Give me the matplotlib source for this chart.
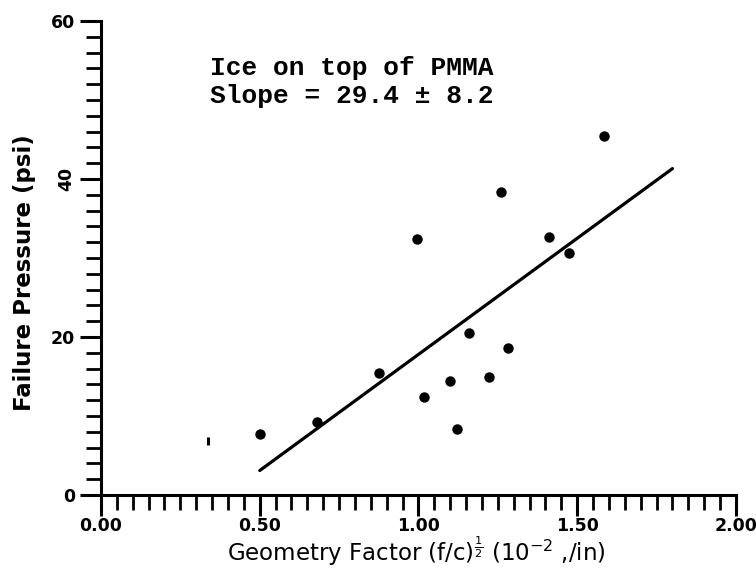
import matplotlib
matplotlib.use("Agg")
import matplotlib.pyplot as plt
from matplotlib.ticker import MultipleLocator, FixedLocator
import numpy as np

# Measured failure pressure vs. geometry factor
geometry_factor = [0.50, 0.68, 0.875, 0.996, 1.018, 1.099, 1.120, 1.160,
                   1.221, 1.259, 1.282, 1.412, 1.473, 1.584]
failure_pressure = [7.7, 9.3, 15.5, 32.4, 12.4, 14.4, 8.4, 20.5,
                    15.0, 38.4, 18.6, 32.6, 30.6, 45.5]
# faintly printed point
faint_x = [0.337]
faint_y = [6.8]

# Least-squares line
fit_slope = 29.4
fit_intercept = -11.6
fit_range = [0.50, 1.80]

x_ticks = [0.0, 0.5, 1.0, 1.5, 2.0]
x_tick_labels = ["0.00", "0.50", "1.00", "1.50", "2.00"]
y_ticks = [0, 20, 40, 60]
y_tick_labels = ["0", "20", "40", "60"]

fig = plt.figure(figsize=(7.56, 5.68), dpi=100)
ax = fig.add_axes([0.1336, 0.1285, 0.8399, 0.8345])

ax.plot(geometry_factor, failure_pressure, "o", color="black", ms=7.5,
        markeredgewidth=0, zorder=3)
ax.plot(faint_x, faint_y, marker="|", color="black", ms=6, mew=2.2,
        linestyle="none")

fx = np.array(fit_range)
ax.plot(fx, fit_slope * fx + fit_intercept, color="black", lw=2.3,
        solid_capstyle="round")

ax.set_xlim(0, 2.0)
ax.set_ylim(0, 60)
for s in ("top", "right"):
    ax.spines[s].set_visible(False)
for s in ("left", "bottom"):
    ax.spines[s].set_linewidth(2.2)

ax.xaxis.set_major_locator(FixedLocator(x_ticks))
ax.xaxis.set_minor_locator(MultipleLocator(0.05))
ax.yaxis.set_major_locator(FixedLocator(y_ticks))
ax.yaxis.set_minor_locator(MultipleLocator(2))
ax.set_xticklabels(x_tick_labels)
ax.set_yticklabels(y_tick_labels)

ax.tick_params(which="major", direction="out", length=15, width=2.2,
               labelsize=12.5)
ax.tick_params(axis="x", which="major", pad=1)
ax.tick_params(which="minor", direction="out", length=11, width=2.0)
for lbl in ax.get_xticklabels() + ax.get_yticklabels():
    lbl.set_fontweight("bold")
# the "40" label is printed turned on its side
for lbl in ax.get_yticklabels():
    if lbl.get_text() == "40":
        lbl.set_rotation(90)
        lbl.set_va("center")

ax.set_xlabel(r"Geometry Factor (f/c)$^{\frac{1}{2}}$ (10$^{-2}$ ,/in)",
              fontsize=16.5, fontname="DejaVu Sans", va="center")
ax.xaxis.set_label_coords(0.497, -0.118)
ax.set_ylabel("Failure Pressure (psi)", fontsize=16.5,
              fontweight="bold", fontname="DejaVu Sans", va="center")
ax.yaxis.set_label_coords(-0.12, 0.47)

ax.text(0.343, 54.0, "Ice on top of PMMA", fontsize=18.9,
        family="Liberation Mono", weight="bold", va="center", ha="left")
ax.text(0.343, 50.5, "Slope = 29.4 \u00b1 8.2", fontsize=18.9,
        family="Liberation Mono", weight="bold", va="center", ha="left")

fig.savefig("out.png", dpi=100)
